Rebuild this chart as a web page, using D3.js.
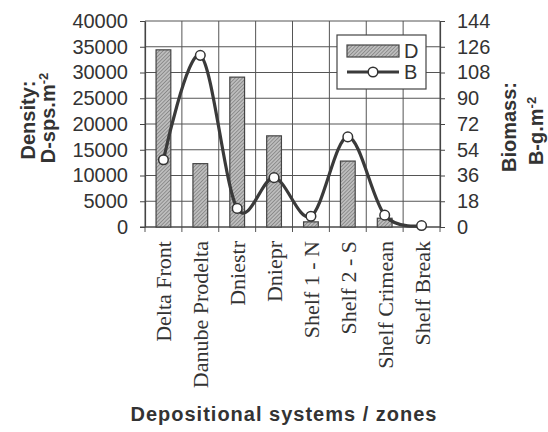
<!DOCTYPE html>
<html>
<head>
<meta charset="utf-8">
<script src="https://cdn.jsdelivr.net/npm/d3@7"></script>
<style>
  html, body { margin: 0; padding: 0; background: #fff; }
  svg { display: block; }
</style>
</head>
<body>
<svg id="chart" width="548" height="432"></svg>
<script>
// Depositional zones along the shelf transect
const zones = ["Delta Front", "Danube Prodelta", "Dniestr", "Dniepr",
               "Shelf 1 - N", "Shelf 2 - S", "Shelf Crimean", "Shelf Break"];
// Density, D (sps·m⁻²)
const density = [34400, 12300, 29100, 17700, 1000, 12800, 1700, 0];
// Biomass, B (g·m⁻²)
const biomass = [47, 120, 13, 34.5, 7.5, 63, 8.3, 1];

const densityTicks = [0, 5000, 10000, 15000, 20000, 25000, 30000, 35000, 40000];
const biomassTicks = [0, 18, 36, 54, 72, 90, 108, 126, 144];

const ink = "#333";
const plotL = 145, plotR = 440, plotT = 21, plotB = 227;

const svg = d3.select("#chart");

// hatched fill for the density bars
const defs = svg.append("defs");
const pat = defs.append("pattern")
  .attr("id", "hatch").attr("patternUnits", "userSpaceOnUse")
  .attr("width", 2.6).attr("height", 2.6)
  .attr("patternTransform", "rotate(45)");
pat.append("rect").attr("width", 2.6).attr("height", 2.6).attr("fill", "#bdbdbd");
pat.append("line").attr("x1", 0).attr("y1", 0).attr("x2", 0).attr("y2", 2.6)
  .attr("stroke", "#707070").attr("stroke-width", 1.2);

const x = d3.scaleBand().domain(zones).range([plotL, plotR]).paddingInner(0).paddingOuter(0);
const yD = d3.scaleLinear().domain([0, 40000]).range([plotB, plotT]);
const yB = d3.scaleLinear().domain([0, 144]).range([plotB, plotT]);

// horizontal gridlines
svg.append("g").selectAll("line").data(densityTicks).join("line")
  .attr("x1", plotL).attr("x2", plotR)
  .attr("y1", d => yD(d)).attr("y2", d => yD(d))
  .attr("stroke", "#555").attr("stroke-width", 1);

// vertical gridlines at category boundaries
const bounds = zones.map(z => x(z)).concat([plotR]);
svg.append("g").selectAll("line").data(bounds).join("line")
  .attr("x1", d => d).attr("x2", d => d)
  .attr("y1", plotT).attr("y2", plotB + 5)
  .attr("stroke", "#555").attr("stroke-width", 1);

// left axis (density)
const axL = svg.append("g").attr("transform", `translate(${plotL},0)`)
  .call(d3.axisLeft(yD).tickValues(densityTicks).tickFormat(d3.format("d"))
    .tickSizeInner(5).tickSizeOuter(0).tickPadding(12));
// right axis (biomass)
const axR = svg.append("g").attr("transform", `translate(${plotR},0)`)
  .call(d3.axisRight(yB).tickValues(biomassTicks).tickFormat(d3.format("d"))
    .tickSizeInner(5).tickSizeOuter(0).tickPadding(12));
[axL, axR].forEach(a => {
  a.select(".domain").attr("stroke", "#444").attr("stroke-width", 1.2);
  a.selectAll(".tick line").attr("stroke", "#444");
  a.selectAll("text").attr("fill", ink)
    .style("font-family", "'Liberation Sans', Arial, sans-serif").style("font-size", "20px");
});

// bottom axis line
svg.append("line").attr("x1", plotL - 5).attr("x2", plotR)
  .attr("y1", plotB).attr("y2", plotB).attr("stroke", "#444").attr("stroke-width", 1.2);

// density bars
const bw = x.bandwidth() * 0.4;
svg.append("g").selectAll("rect").data(zones).join("rect")
  .attr("x", z => x(z) + (x.bandwidth() - bw) / 2)
  .attr("width", bw)
  .attr("y", (z, i) => yD(density[i]))
  .attr("height", (z, i) => plotB - yD(density[i]))
  .attr("fill", "url(#hatch)")
  .attr("stroke", "#444").attr("stroke-width", 1.2)
  .attr("display", (z, i) => density[i] > 0 ? null : "none");

// biomass smoothed line with markers
const pts = zones.map((z, i) => [x(z) + x.bandwidth() / 2, yB(biomass[i])]);
svg.append("path")
  .attr("d", d3.line().curve(d3.curveCardinal.tension(0))(pts))
  .attr("fill", "none").attr("stroke", "#3a3a3a").attr("stroke-width", 3.2)
  .attr("stroke-linejoin", "round");
svg.append("g").selectAll("circle").data(pts).join("circle")
  .attr("cx", d => d[0]).attr("cy", d => d[1]).attr("r", 4.8)
  .attr("fill", "#fff").attr("stroke", "#333").attr("stroke-width", 1.5);

// category labels, rotated
svg.append("g").selectAll("text").data(zones).join("text")
  .attr("transform", z => `translate(${x(z) + x.bandwidth() / 2 + 8},241) rotate(-90)`)
  .attr("text-anchor", "end")
  .attr("fill", ink)
  .style("font-family", "'Liberation Serif', 'Times New Roman', serif")
  .style("font-size", "22px")
  .text(z => z);

// legend
const lg = svg.append("g");
lg.append("rect").attr("x", 337).attr("y", 35).attr("width", 89).attr("height", 54)
  .attr("fill", "#fff").attr("stroke", "#444").attr("stroke-width", 1.2);
lg.append("rect").attr("x", 347).attr("y", 45).attr("width", 52).attr("height", 12)
  .attr("fill", "url(#hatch)").attr("stroke", "#444").attr("stroke-width", 1.2);
lg.append("line").attr("x1", 347).attr("x2", 399).attr("y1", 72).attr("y2", 72)
  .attr("stroke", "#3a3a3a").attr("stroke-width", 3.2);
lg.append("circle").attr("cx", 373).attr("cy", 72).attr("r", 4.8)
  .attr("fill", "#fff").attr("stroke", "#333").attr("stroke-width", 1.5);
lg.selectAll("text.key").data(["D", "B"]).join("text")
  .attr("class", "key")
  .attr("x", 404).attr("y", (d, i) => 58 + i * 21)
  .attr("fill", ink)
  .style("font-family", "'Liberation Sans', Arial, sans-serif").style("font-size", "20px")
  .text(d => d);

// axis titles
const boldFont = "'Liberation Sans', Arial, sans-serif";
function vTitle(cx, cy, main, sup) {
  const t = svg.append("text")
    .attr("transform", `translate(${cx},${cy}) rotate(-90)`)
    .attr("text-anchor", "middle").attr("fill", ink)
    .style("font-family", boldFont).style("font-weight", "bold").style("font-size", "20px");
  t.append("tspan").text(main);
  if (sup) t.append("tspan").attr("dy", "-0.55em").style("font-size", "13px").text(sup);
}
vTitle(35, 120, "Density:");
vTitle(55, 118, "D-sps.m", "-2");
vTitle(516, 127, "Biomass:");
vTitle(543, 131, "B-g.m", "-2");

svg.append("text")
  .attr("x", 284).attr("y", 421).attr("text-anchor", "middle")
  .attr("fill", ink)
  .style("font-family", boldFont).style("font-weight", "bold").style("font-size", "20px")
  .style("letter-spacing", "1px")
  .text("Depositional systems / zones");
</script>
</body>
</html>
